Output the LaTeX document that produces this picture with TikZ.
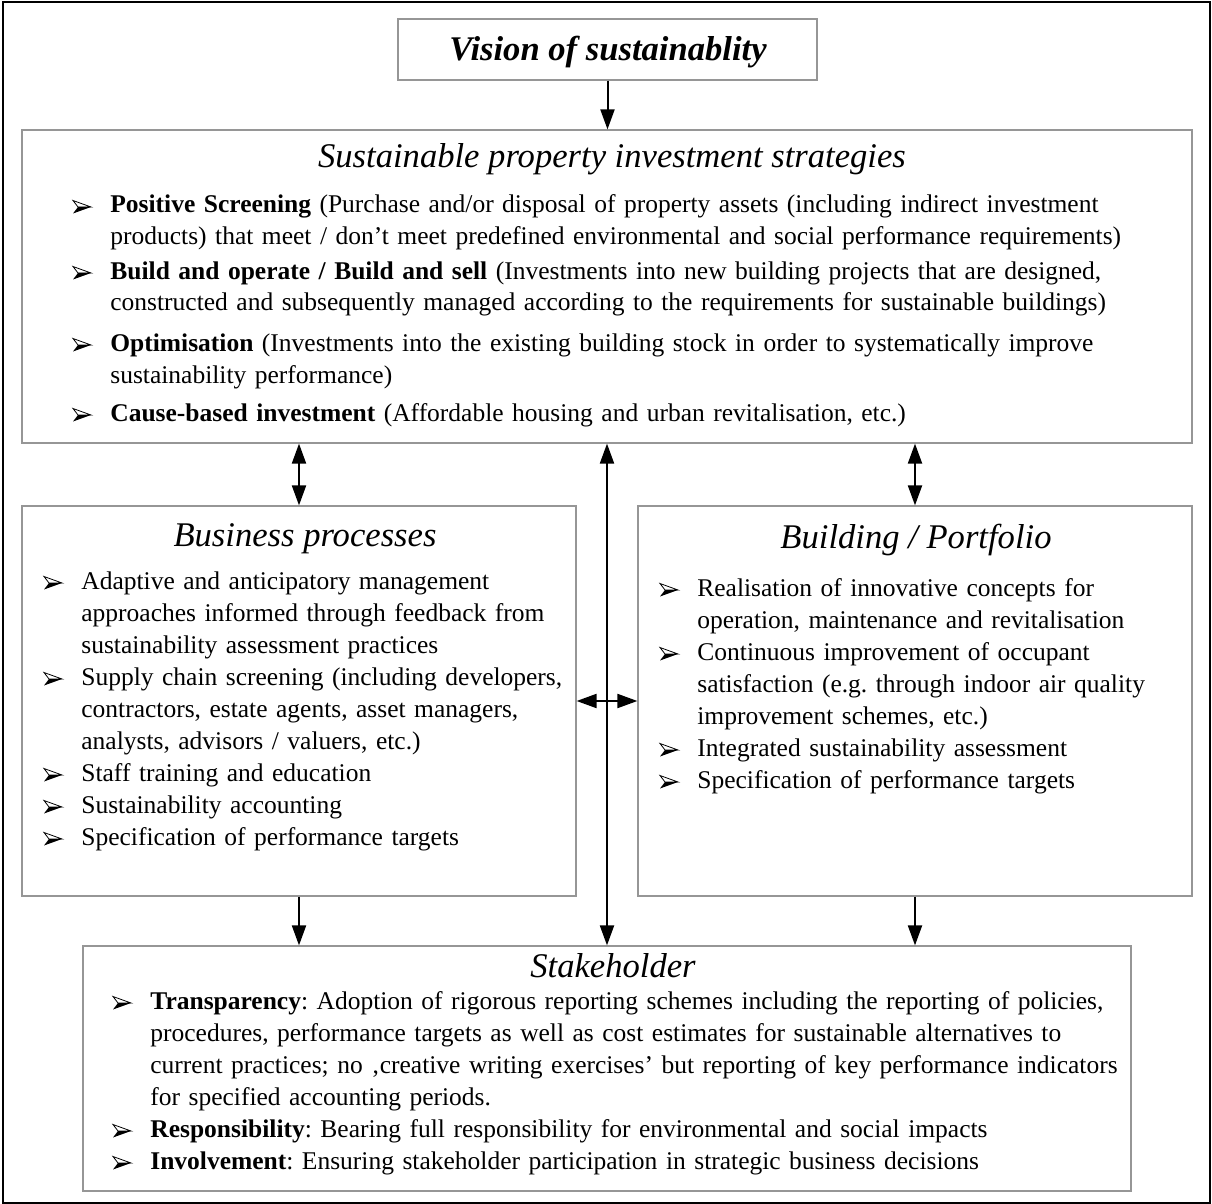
\documentclass[tikz,border=0pt]{standalone}
\usepackage{fontspec}
\setmainfont{Liberation Serif}
\usetikzlibrary{arrows.meta,fit}

\definecolor{boxline}{RGB}{150,150,150}

% one bulleted entry: name, bullet x, text x, first baseline, text
\newcommand\listentry[5]{%
  \pic at (#2,#4) {pointer};
  \node[body] (#1) at (#3,#4) {#5};}

\tikzset{
  box/.style={draw=boxline, line width=0.6pt, inner sep=0pt},
  body/.style={inner sep=0pt, anchor=base west, text width=560pt, align=left,
    font=\frenchspacing\fontsize{12.75}{16}\selectfont},
  heading/.style={inner sep=0pt, anchor=base, font=\fontsize{17.3}{20}\selectfont\itshape},
  tip/.tip={Triangle[length=10pt,width=7pt]},
  link/.style={line width=1pt, -tip},
  twoway/.style={line width=1pt, tip-tip},
  % three-dimensional arrowhead bullet: outlined upper half, solid lower half
  pointer/.pic={
    \draw[line width=0.4pt, fill=white, line join=miter] (0,-12.5) -- (18,-6) -- (5,-6) -- cycle;
    \fill (5,-6) -- (18,-6) -- (0,0.5) -- cycle;
  },
}

\begin{document}
\begin{tikzpicture}[x=0.5pt,y=-0.5pt]
\useasboundingbox (0,0) rectangle (1212,1204);
\draw[line width=1.2pt] (3,2) rectangle (1210,1203);

% boxes
\node[box, fit={(398,19) (817,80)}] (vision) {};
\node[box, fit={(22,130) (1192,443)}] (strategy) {};
\node[box, fit={(22,506) (576,896)}] (business) {};
\node[box, fit={(638,506) (1192,896)}] (building) {};
\node[box, fit={(83,946) (1131,1191)}] (stakeholder) {};

\node[heading, font=\fontsize{17.3}{20}\selectfont\bfseries\itshape] (visionhead)
  at (608,61) {Vision of sustainablity};

% strategies
\node[heading] (strategyhead) at (612,168) {Sustainable property investment strategies};
\listentry{s1}{73}{110}{213}{\textbf{Positive Screening} (Purchase and/or disposal of property assets (including indirect investment\\
products) that meet / don’t meet predefined environmental and social performance requirements)}
\listentry{s2}{73}{110}{279}{\textbf{Build and operate / Build and sell} (Investments into new building projects that are designed,\\
constructed and subsequently managed according to the requirements for sustainable buildings)}
\listentry{s3}{73}{110}{351}{\textbf{Optimisation} (Investments into the existing building stock in order to systematically improve\\
sustainability performance)}
\listentry{s4}{73}{110}{421}{\textbf{Cause-based investment} (Affordable housing and urban revitalisation, etc.)}

% business processes
\node[heading] (businesshead) at (305,546) {Business processes};
\listentry{b1}{44}{81}{589}{Adaptive and anticipatory management\\
approaches informed through feedback from\\
sustainability assessment practices}
\listentry{b2}{44}{81}{685}{Supply chain screening (including developers,\\
contractors, estate agents, asset managers,\\
analysts, advisors / valuers, etc.)}
\listentry{b3}{44}{81}{781}{Staff training and education}
\listentry{b4}{44}{81}{813}{Sustainability accounting}
\listentry{b5}{44}{81}{845}{Specification of performance targets}

% building / portfolio
\node[heading] (buildinghead) at (916,548) {Building / Portfolio};
\listentry{p1}{660}{697}{596}{Realisation of innovative concepts for\\
operation, maintenance and revitalisation}
\listentry{p2}{660}{697}{660}{Continuous improvement of occupant\\
satisfaction (e.g. through indoor air quality\\
improvement schemes, etc.)}
\listentry{p3}{660}{697}{756}{Integrated sustainability assessment}
\listentry{p4}{660}{697}{788}{Specification of performance targets}

% stakeholder
\node[heading] (stakeholderhead) at (613,977) {Stakeholder};
\listentry{k1}{113}{150}{1009}{\textbf{Transparency}: Adoption of rigorous reporting schemes including the reporting of policies,\\
procedures, performance targets as well as cost estimates for sustainable alternatives to\\
current practices; no ‚creative writing exercises’ but reporting of key performance indicators\\
for specified accounting periods.}
\listentry{k2}{113}{150}{1137}{\textbf{Responsibility}: Bearing full responsibility for environmental and social impacts}
\listentry{k3}{113}{150}{1169}{\textbf{Involvement}: Ensuring stakeholder participation in strategic business decisions}

% connectors
\draw[link] (vision.south) -- (vision.south |- strategy.north);
\draw[twoway] (business.north |- strategy.south) -- (business.north);
\draw[twoway] (building.north |- strategy.south) -- (building.north);
\draw[twoway] (stakeholder.north |- strategy.south) -- (stakeholder.north);
\draw[twoway] (business.east) -- (building.west);
\draw[link] (business.south) -- (business.south |- stakeholder.north);
\draw[link] (building.south) -- (building.south |- stakeholder.north);
\end{tikzpicture}
\end{document}
